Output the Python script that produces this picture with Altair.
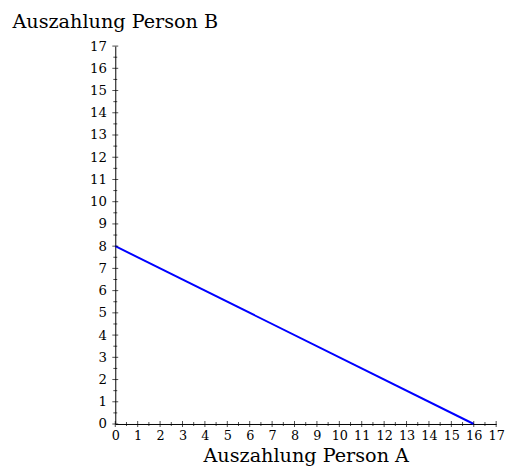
import altair as alt
import pandas as pd

line_x = [0, 16]
line_y = [8, 0]
major_ticks = list(range(0, 18))
minor_ticks = [i + 0.5 for i in range(0, 17)]

FONT = "DejaVu Serif"
W, H = 387, 384

line_df = pd.DataFrame({"a": line_x, "b": line_y})
maj_df = pd.DataFrame({"t": major_ticks})
min_df = pd.DataFrame({"t": minor_ticks})

xs = alt.Scale(domain=[0, 17], nice=False, zero=False)
ys = alt.Scale(domain=[0, 17], nice=False, zero=False)

xaxis = alt.Axis(
    values=major_ticks, ticks=False, grid=False, labelFont=FONT, labelFontSize=13,
    labelColor="black", domainColor="black", domainWidth=1, labelPadding=6,
    title="Auszahlung Person A", titleFont=FONT, titleFontSize=19.5,
    titleFontWeight="normal", titleColor="black", titleY=38, titleBaseline="alphabetic",
    labelFlush=False, labelOverlap=False, format="d")
yaxis = alt.Axis(
    values=major_ticks, ticks=False, grid=False, labelFont=FONT, labelFontSize=13.5,
    labelColor="black", domainColor="black", domainWidth=1, labelPadding=9,
    title="Auszahlung Person B", titleFont=FONT, titleFontSize=19.5,
    titleFontWeight="normal", titleColor="black", titleAngle=0, titleX=-105,
    titleY=-19, titleAlign="left", titleBaseline="alphabetic",
    labelFlush=False, labelOverlap=False, format="d")

line = alt.Chart(line_df).mark_line(color="#0000ff", strokeWidth=2).encode(
    x=alt.X("a:Q", scale=xs, axis=xaxis, title="Auszahlung Person A"),
    y=alt.Y("b:Q", scale=ys, axis=yaxis, title="Auszahlung Person B"),
)

xmaj = alt.Chart(maj_df).mark_tick(color="black", size=6, thickness=1, orient="vertical").encode(
    x=alt.X("t:Q", scale=xs, axis=xaxis, title="Auszahlung Person A"), y=alt.value(H))
xmin = alt.Chart(min_df).mark_tick(color="black", size=4, thickness=1, orient="vertical").encode(
    x=alt.X("t:Q", scale=xs, axis=xaxis, title="Auszahlung Person A"), y=alt.value(H))
ymaj = alt.Chart(maj_df).mark_tick(color="black", size=6, thickness=1, orient="horizontal").encode(
    y=alt.Y("t:Q", scale=ys, axis=yaxis, title="Auszahlung Person B"), x=alt.value(0))
ymin = alt.Chart(min_df).mark_tick(color="black", size=4, thickness=1, orient="horizontal").encode(
    y=alt.Y("t:Q", scale=ys, axis=yaxis, title="Auszahlung Person B"), x=alt.value(0))

chart = alt.layer(line, xmaj, xmin, ymaj, ymin).properties(
    width=W, height=H,
    background="white",
    autosize=alt.AutoSizeParams(type="none"),
    padding={"left": 109, "top": 35, "right": 10, "bottom": 40},
).configure_view(stroke=None)

chart.save("out.html", embed_options={"renderer": "svg", "actions": False})
